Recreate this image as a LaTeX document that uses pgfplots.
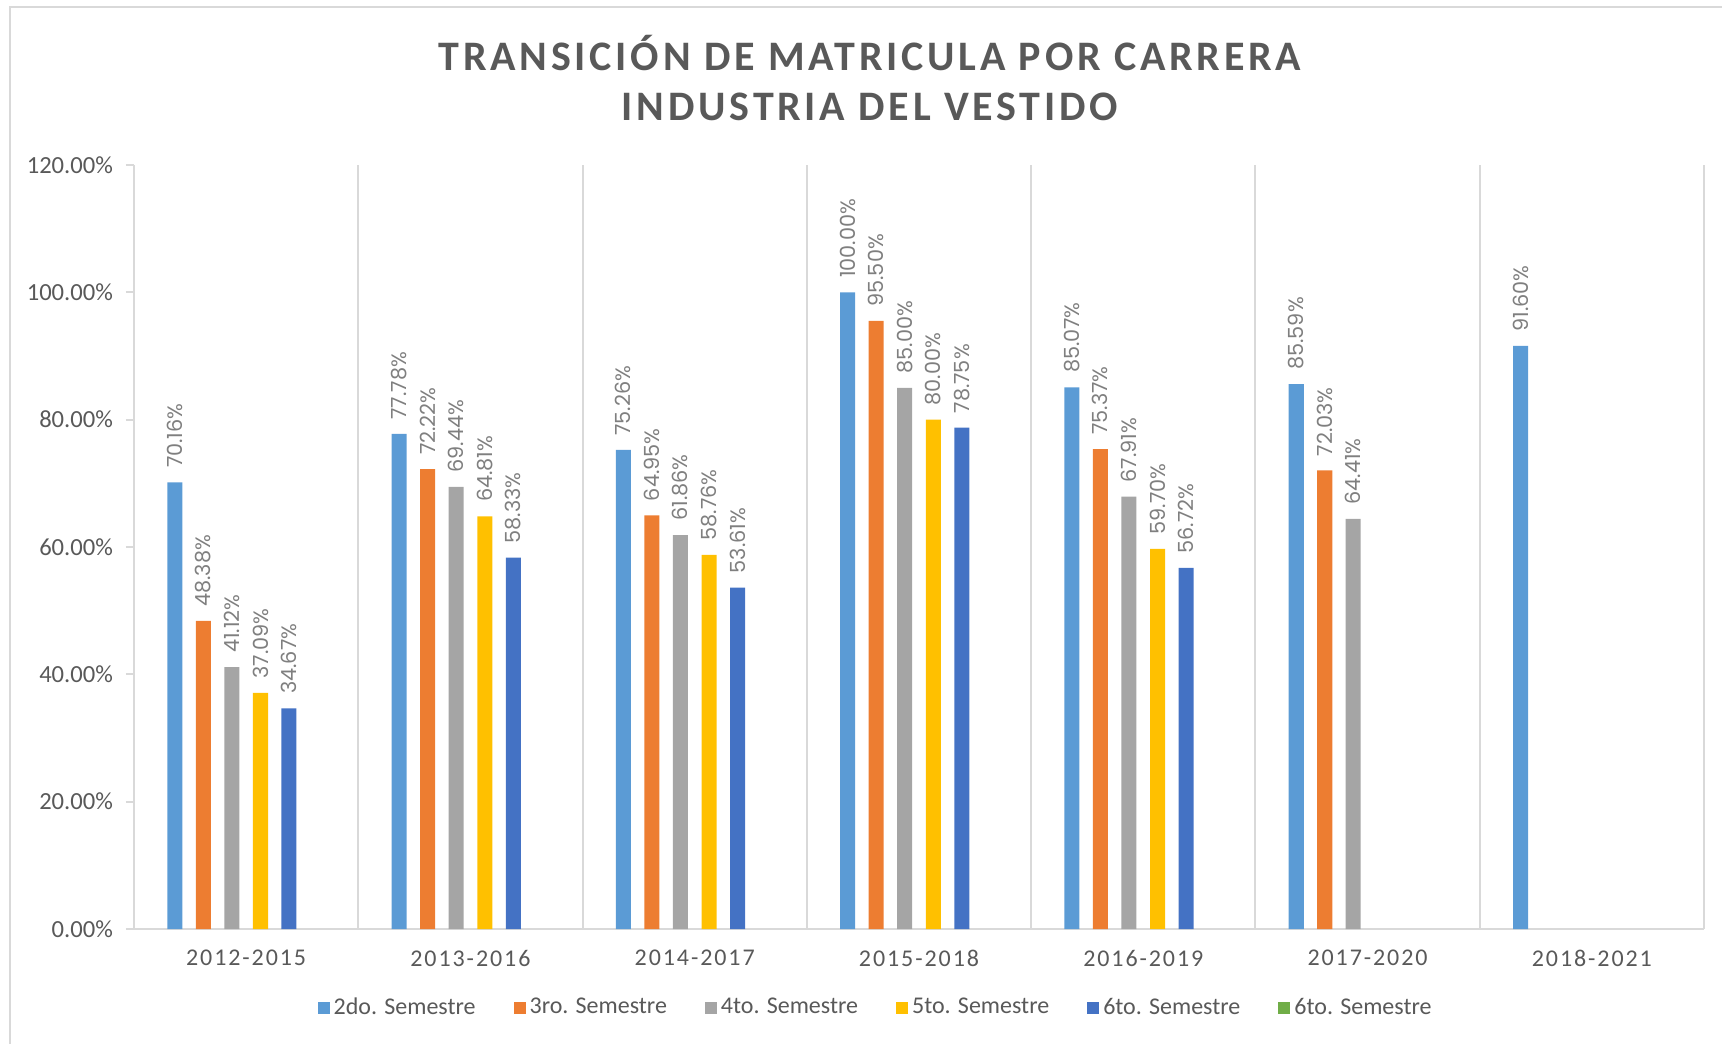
\documentclass[border=0pt]{standalone}
\usepackage{fontspec}
\setmainfont{Carlito}
\newfontfamily\spaced[LetterSpace=8]{Carlito}
\newfontfamily\titlefont[LetterSpace=9]{Carlito}
\newfontfamily\lblfont{Poppins}
\usepackage{pgfplots}
\pgfplotsset{compat=1.18}
\definecolor{cBlue}{HTML}{5B9BD5}
\definecolor{cOrange}{HTML}{ED7D31}
\definecolor{cGray}{HTML}{A5A5A5}
\definecolor{cGold}{HTML}{FFC000}
\definecolor{cDBlue}{HTML}{4472C4}
\definecolor{cGreen}{HTML}{70AD47}
\definecolor{txt}{HTML}{595959}
\definecolor{lbl}{HTML}{7F7F7F}
\definecolor{grid}{HTML}{D9D9D9}

\begin{document}
\begin{tikzpicture}
\path[use as bounding box] (-67pt,-57pt) rectangle (794pt,464.5pt);
\draw[grid, line width=1.2pt] (-62pt,-60pt) -- (-62pt,461pt) -- (800pt,461pt);
\begin{axis}[
  at={(0,0)}, anchor=south west,
  width=785pt, height=382pt, scale only axis,
  xmin=-0.5, xmax=6.5, ymin=0, ymax=120,
  axis x line*=bottom, axis y line*=left,
  axis line style={grid, line width=1pt, -},
  /pgf/number format/assume math mode=true,
  xtick={0,...,6},
  xticklabels={2012-2015,2013-2016,2014-2017,2015-2018,2016-2019,2017-2020,2018-2021},
  xticklabel style={font=\spaced\fontsize{12}{14}\selectfont, text=txt, yshift=-3pt},
  major x tick style={draw=none},
  minor xtick={0.5,1.5,...,6.5},
  minor x tick style={draw=none},
  minor x grid style={grid, line width=1pt},
  xminorgrids=true,
  ytick={0,20,...,120},
  yticklabels={0.00\%,20.00\%,40.00\%,60.00\%,80.00\%,100.00\%,120.00\%},
  yticklabel style={font=\fontsize{12.3}{14}\selectfont, text=txt, xshift=-3pt},
  ytick align=outside, major tick length=4pt,
  y tick style={grid, line width=1pt},
  ybar, bar width=0.067,
  nodes near coords={\pgfmathprintnumber[fixed,fixed zerofill,precision=2]{\pgfplotspointmeta}\%},
  every node near coord/.append style={rotate=90, anchor=west, inner xsep=7pt,
    font=\lblfont\fontsize{10.4}{12}\selectfont, text=lbl},
  legend columns=6,
  legend style={draw=none, at={(0.473,-0.103)}, anchor=center,
    font=\fontsize{12}{14}\selectfont, text=txt,
    /tikz/every even column/.append style={column sep=17pt}},
  legend image code/.code={\fill[#1] (0pt,-3pt) rectangle (6pt,3pt);},
]
\addplot[fill=cBlue, draw=none, bar shift=-0.318] coordinates
  {(0,70.16) (1,77.78) (2,75.26) (3,100.00) (4,85.07) (5,85.59) (6,91.60)};
\addlegendentry{2do. Semestre}
\addplot[fill=cOrange, draw=none, bar shift=-0.191] coordinates
  {(0,48.38) (1,72.22) (2,64.95) (3,95.50) (4,75.37) (5,72.03)};
\addlegendentry{3ro. Semestre}
\addplot[fill=cGray, draw=none, bar shift=-0.064] coordinates
  {(0,41.12) (1,69.44) (2,61.86) (3,85.00) (4,67.91) (5,64.41)};
\addlegendentry{4to. Semestre}
\addplot[fill=cGold, draw=none, bar shift=0.064] coordinates
  {(0,37.09) (1,64.81) (2,58.76) (3,80.00) (4,59.70)};
\addlegendentry{5to. Semestre}
\addplot[fill=cDBlue, draw=none, bar shift=0.191] coordinates
  {(0,34.67) (1,58.33) (2,53.61) (3,78.75) (4,56.72)};
\addlegendentry{6to. Semestre}
\addlegendimage{fill=cGreen, draw=none}
\addlegendentry{6to. Semestre}
\end{axis}
\node[font=\titlefont\bfseries\fontsize{21}{24}\selectfont, text=txt, align=center]
  at (368pt,438pt) {TRANSICIÓN DE MATRICULA POR CARRERA};
\node[font=\titlefont\bfseries\fontsize{21}{24}\selectfont, text=txt, align=center]
  at (368pt,411pt) {INDUSTRIA DEL VESTIDO};
\end{tikzpicture}
\end{document}
